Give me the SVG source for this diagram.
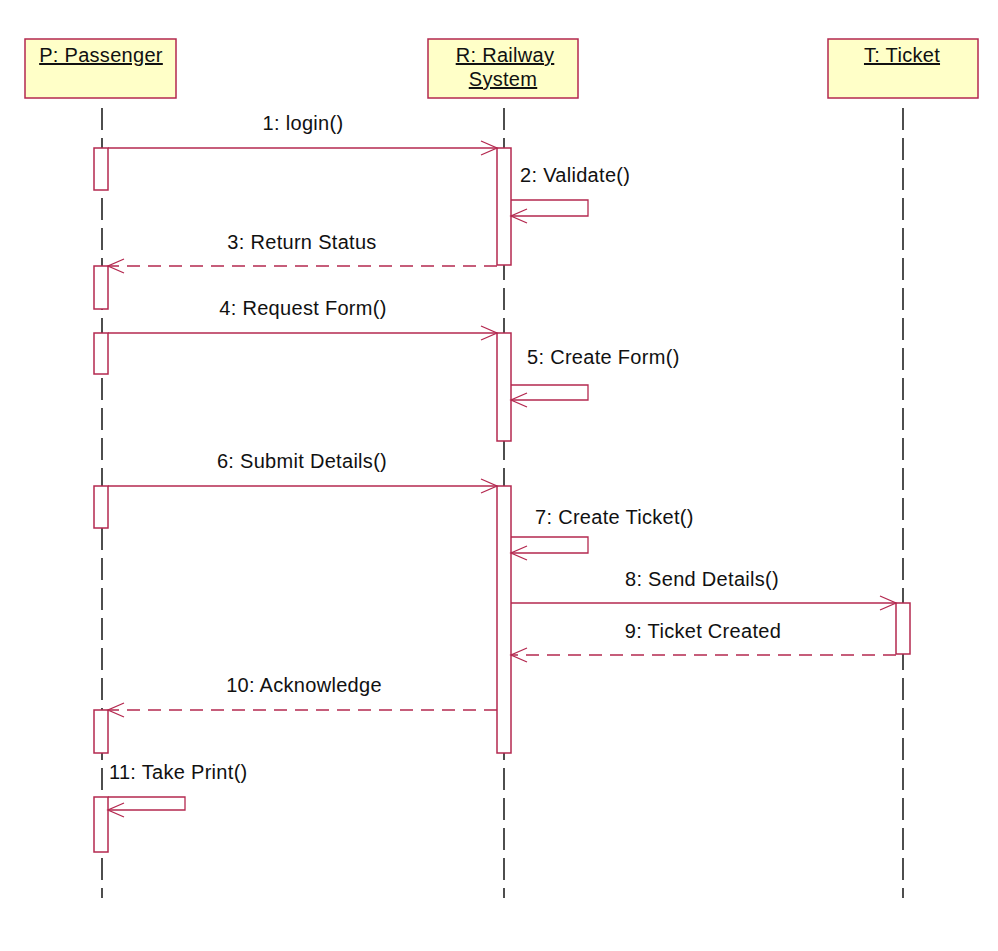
<svg xmlns="http://www.w3.org/2000/svg" width="998" height="951" viewBox="0 0 998 951">
<style>
.box{fill:#ffffc8;stroke:#b4284f;stroke-width:1.5}
.life{stroke:#222;stroke-width:1.6;stroke-dasharray:22,8;fill:none}
.act{fill:#fff;stroke:#b4284f;stroke-width:1.5}
.msg{stroke:#b4284f;stroke-width:1.3;fill:none}
.ret{stroke:#b4284f;stroke-width:1.3;fill:none;stroke-dasharray:13,8}
.head{stroke:#b4284f;stroke-width:1.3;fill:none}
text{font-family:"Liberation Sans",Arial,sans-serif;font-size:20px;letter-spacing:0.3px;fill:#111}
.t{text-decoration:underline;text-anchor:middle}
.c{text-anchor:middle}
</style>
<rect width="998" height="951" fill="#fff"/>
<g id="lifelines">
<line class="life" x1="102" y1="108" x2="102" y2="898"/>
<line class="life" x1="504" y1="108" x2="504" y2="898"/>
<line class="life" x1="903" y1="108" x2="903" y2="898"/>
</g>
<g id="P">
<rect class="box" x="25" y="39" width="151" height="59"/>
<text class="t" x="101" y="62">P: Passenger</text>
</g>
<g id="R">
<rect class="box" x="428" y="39" width="150" height="59"/>
<text class="t" x="505" y="62">R: Railway </text>
<text class="t" x="503" y="86">System</text>
</g>
<g id="T">
<rect class="box" x="828" y="39" width="150" height="59"/>
<text class="t" x="902" y="62">T: Ticket</text>
</g>
<g id="activations">
<rect class="act" x="94" y="148" width="14" height="42"/>
<rect class="act" x="94" y="266" width="14" height="43"/>
<rect class="act" x="94" y="333" width="14" height="41"/>
<rect class="act" x="94" y="486" width="14" height="42"/>
<rect class="act" x="94" y="710" width="14" height="43"/>
<rect class="act" x="94" y="797" width="14" height="55"/>
<rect class="act" x="497" y="148" width="14" height="117"/>
<rect class="act" x="497" y="333" width="14" height="108"/>
<rect class="act" x="497" y="486" width="14" height="267"/>
<rect class="act" x="896" y="603" width="14" height="51"/>
</g>
<g id="connectors">
<line class="msg" x1="108" y1="148" x2="497" y2="148"/>
<polyline class="head" points="481,141 497,148 481,155"/>
<polyline class="msg" points="511,200 588,200 588,216 511,216"/>
<polyline class="head" points="527,209 511,216 527,223"/>
<line class="ret" x1="497" y1="266" x2="108" y2="266"/>
<polyline class="head" points="124,259 108,266 124,273"/>
<line class="msg" x1="108" y1="333" x2="497" y2="333"/>
<polyline class="head" points="481,326 497,333 481,340"/>
<polyline class="msg" points="511,385 588,385 588,400 511,400"/>
<polyline class="head" points="527,393 511,400 527,407"/>
<line class="msg" x1="108" y1="486" x2="497" y2="486"/>
<polyline class="head" points="481,479 497,486 481,493"/>
<polyline class="msg" points="511,537 588,537 588,553 511,553"/>
<polyline class="head" points="527,546 511,553 527,560"/>
<line class="msg" x1="511" y1="603" x2="896" y2="603"/>
<polyline class="head" points="880,596 896,603 880,610"/>
<line class="ret" x1="896" y1="655" x2="511" y2="655"/>
<polyline class="head" points="527,648 511,655 527,662"/>
<line class="ret" x1="497" y1="710" x2="108" y2="710"/>
<polyline class="head" points="124,703 108,710 124,717"/>
<polyline class="msg" points="108,797 185,797 185,810 108,810"/>
<polyline class="head" points="124,803 108,810 124,817"/>
</g>
<g id="labels">
<text class="c" x="303" y="130">1: login()</text>
<text x="520" y="182">2: Validate()</text>
<text class="c" x="302" y="249">3: Return Status</text>
<text class="c" x="303" y="315">4: Request Form()</text>
<text x="527" y="364">5: Create Form()</text>
<text class="c" x="302" y="468">6: Submit Details()</text>
<text x="535" y="524">7: Create Ticket()</text>
<text class="c" x="702" y="586">8: Send Details()</text>
<text class="c" x="703" y="638">9: Ticket Created</text>
<text class="c" x="304" y="692">10: Acknowledge</text>
<text x="109" y="779">11: Take Print()</text>
</g>
</svg>
